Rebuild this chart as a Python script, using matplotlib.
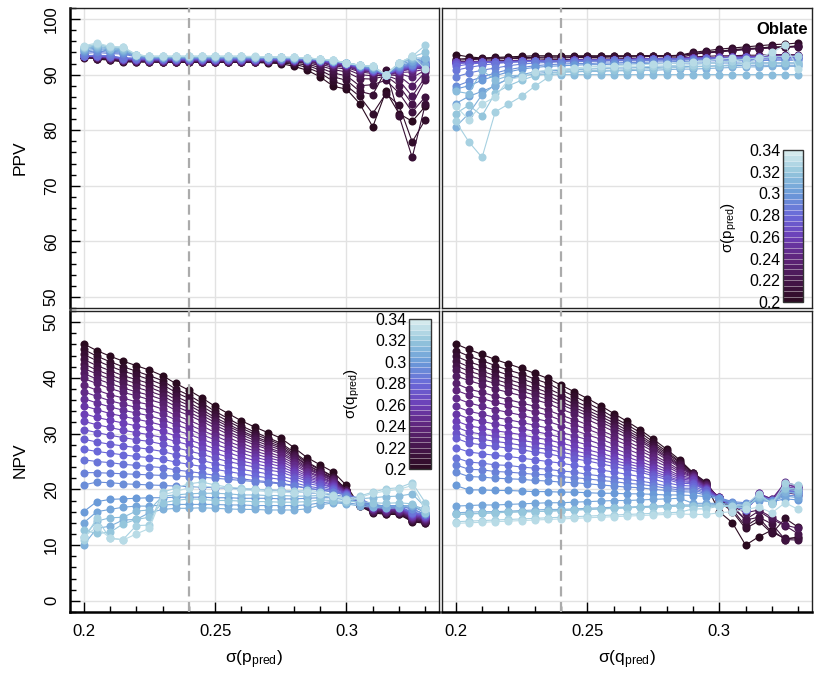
import matplotlib
matplotlib.use('Agg')
import matplotlib.pyplot as plt
from matplotlib.colors import LinearSegmentedColormap, Normalize
from matplotlib.colorbar import ColorbarBase
from matplotlib.ticker import MultipleLocator

plt.rcParams['font.family'] = ['Liberation Sans', 'DejaVu Sans']

# grid of sigma values, used both for sigma(p_pred) and sigma(q_pred)
sig = [0.200, 0.205, 0.210, 0.215, 0.220, 0.225, 0.230, 0.235, 0.240,
       0.245, 0.250, 0.255, 0.260, 0.265, 0.270, 0.275, 0.280, 0.285,
       0.290, 0.295, 0.300, 0.305, 0.310, 0.315, 0.320, 0.325, 0.330]

# PPV[i][j] : row i = sigma(q_pred), column j = sigma(p_pred)
ppv = [
    [93.6, 92.8, 92.6, 92.3, 92.3, 92.3, 92.2, 92.2, 92.2, 92.2, 92.2, 92.2, 92.2, 92.2, 92.1, 92.0, 91.5, 90.8, 89.6, 87.9, 87.4, 84.8, 80.6, 87.0, 83.0, 81.6, 84.3],
    [93.2, 92.9, 92.7, 92.4, 92.3, 92.3, 92.3, 92.2, 92.2, 92.2, 92.2, 92.2, 92.2, 92.2, 92.2, 92.1, 91.9, 91.3, 90.3, 88.8, 88.0, 86.1, 83.0, 86.6, 84.5, 77.9, 81.9],
    [93.0, 92.9, 92.8, 92.4, 92.4, 92.3, 92.3, 92.3, 92.3, 92.3, 92.3, 92.3, 92.3, 92.3, 92.2, 92.2, 92.1, 91.7, 90.8, 89.6, 89.0, 87.0, 86.4, 90.8, 82.6, 75.1, 84.7],
    [93.1, 93.0, 92.8, 92.5, 92.4, 92.4, 92.3, 92.3, 92.3, 92.3, 92.3, 92.3, 92.3, 92.3, 92.3, 92.3, 92.3, 92.0, 91.2, 90.3, 89.8, 88.0, 88.2, 89.0, 86.7, 83.3, 86.0],
    [93.2, 93.0, 92.9, 92.5, 92.5, 92.4, 92.4, 92.4, 92.4, 92.4, 92.4, 92.4, 92.4, 92.4, 92.4, 92.3, 92.3, 92.2, 91.6, 90.9, 90.5, 89.3, 89.2, 89.8, 88.0, 84.7, 89.1],
    [93.3, 93.1, 92.9, 92.6, 92.5, 92.4, 92.4, 92.4, 92.4, 92.4, 92.4, 92.4, 92.4, 92.4, 92.4, 92.4, 92.4, 92.3, 91.9, 91.3, 91.0, 90.0, 89.8, 89.9, 89.0, 86.1, 89.6],
    [93.4, 93.1, 93.0, 92.6, 92.5, 92.5, 92.5, 92.5, 92.5, 92.5, 92.5, 92.5, 92.5, 92.4, 92.4, 92.4, 92.4, 92.4, 92.1, 91.6, 91.3, 90.5, 90.2, 90.0, 89.8, 87.9, 90.5],
    [93.4, 93.2, 93.0, 92.7, 92.6, 92.5, 92.5, 92.5, 92.5, 92.5, 92.5, 92.5, 92.5, 92.5, 92.5, 92.5, 92.5, 92.4, 92.2, 91.8, 91.5, 90.7, 90.4, 90.0, 90.2, 89.5, 90.8],
    [93.4, 93.2, 93.0, 92.7, 92.6, 92.5, 92.5, 92.5, 92.5, 92.5, 92.5, 92.5, 92.5, 92.5, 92.5, 92.5, 92.5, 92.5, 92.3, 91.9, 91.6, 90.8, 90.5, 90.0, 90.4, 90.5, 91.0],
    [93.4, 93.2, 93.1, 92.7, 92.7, 92.6, 92.6, 92.6, 92.6, 92.6, 92.6, 92.6, 92.6, 92.6, 92.6, 92.5, 92.5, 92.5, 92.3, 92.0, 91.7, 90.9, 90.5, 90.0, 90.6, 91.0, 91.2],
    [93.4, 93.3, 93.1, 92.8, 92.7, 92.6, 92.6, 92.6, 92.6, 92.6, 92.6, 92.6, 92.6, 92.6, 92.6, 92.6, 92.6, 92.5, 92.4, 92.0, 91.8, 91.0, 90.6, 90.0, 90.7, 91.1, 91.4],
    [93.4, 93.3, 93.1, 92.8, 92.7, 92.7, 92.7, 92.7, 92.7, 92.7, 92.7, 92.7, 92.7, 92.6, 92.6, 92.6, 92.6, 92.6, 92.4, 92.1, 91.8, 91.1, 90.6, 90.0, 90.8, 91.2, 91.5],
    [93.4, 93.3, 93.2, 92.8, 92.8, 92.7, 92.7, 92.7, 92.7, 92.7, 92.7, 92.7, 92.7, 92.7, 92.7, 92.7, 92.6, 92.6, 92.5, 92.1, 91.9, 91.2, 90.7, 90.0, 90.8, 91.3, 91.6],
    [93.4, 93.3, 93.2, 92.9, 92.8, 92.7, 92.7, 92.7, 92.7, 92.7, 92.7, 92.7, 92.7, 92.7, 92.7, 92.7, 92.7, 92.6, 92.5, 92.2, 91.9, 91.2, 90.7, 90.0, 90.9, 91.4, 91.7],
    [93.4, 93.4, 93.2, 92.9, 92.8, 92.8, 92.8, 92.8, 92.8, 92.8, 92.8, 92.8, 92.8, 92.8, 92.8, 92.8, 92.7, 92.7, 92.5, 92.2, 92.0, 91.3, 90.8, 90.0, 91.0, 91.4, 91.8],
    [93.4, 93.4, 93.3, 92.9, 92.9, 92.8, 92.8, 92.8, 92.8, 92.8, 92.8, 92.8, 92.8, 92.8, 92.8, 92.8, 92.8, 92.7, 92.6, 92.3, 92.0, 91.3, 90.8, 90.0, 91.1, 91.5, 91.9],
    [93.4, 93.4, 93.3, 93.0, 92.9, 92.9, 92.9, 92.9, 92.9, 92.9, 92.9, 92.9, 92.9, 92.9, 92.9, 92.8, 92.8, 92.7, 92.6, 92.3, 92.0, 91.4, 90.9, 90.0, 91.2, 91.6, 92.0],
    [93.4, 93.5, 93.4, 93.0, 93.0, 92.9, 92.9, 92.9, 92.9, 92.9, 92.9, 92.9, 92.9, 92.9, 92.9, 92.9, 92.8, 92.8, 92.6, 92.4, 92.1, 91.4, 91.0, 90.0, 91.3, 91.7, 92.1],
    [93.8, 94.0, 93.8, 93.7, 93.2, 93.0, 93.0, 93.0, 93.0, 93.0, 93.0, 93.0, 93.0, 93.0, 92.9, 92.9, 92.9, 92.8, 92.7, 92.4, 92.1, 91.5, 91.0, 90.0, 91.4, 91.8, 92.3],
    [94.0, 94.3, 94.0, 93.9, 93.3, 93.0, 93.0, 93.0, 93.0, 93.0, 93.0, 93.0, 93.0, 93.0, 93.0, 93.0, 92.9, 92.8, 92.7, 92.5, 92.1, 91.5, 91.1, 90.0, 91.5, 92.0, 92.5],
    [94.2, 94.6, 94.2, 94.1, 93.4, 93.1, 93.1, 93.1, 93.1, 93.1, 93.1, 93.1, 93.1, 93.0, 93.0, 93.0, 93.0, 92.9, 92.7, 92.5, 92.1, 91.6, 91.2, 90.0, 91.6, 92.2, 92.8],
    [94.5, 94.8, 94.4, 94.3, 93.4, 93.1, 93.1, 93.1, 93.1, 93.1, 93.1, 93.1, 93.1, 93.1, 93.1, 93.0, 93.0, 92.9, 92.7, 92.5, 92.1, 91.6, 91.3, 90.0, 91.8, 92.5, 93.0],
    [94.7, 95.0, 94.6, 94.5, 93.5, 93.2, 93.2, 93.2, 93.2, 93.2, 93.2, 93.2, 93.2, 93.1, 93.1, 93.1, 93.0, 92.9, 92.7, 92.5, 92.1, 91.7, 91.4, 90.0, 92.0, 92.8, 91.8],
    [94.8, 95.2, 94.7, 94.7, 93.5, 93.2, 93.2, 93.2, 93.2, 93.2, 93.2, 93.2, 93.2, 93.2, 93.1, 93.1, 93.0, 93.0, 92.8, 92.5, 92.1, 91.7, 91.4, 90.0, 92.1, 93.0, 93.0],
    [95.0, 95.4, 94.9, 94.8, 93.6, 93.3, 93.3, 93.3, 93.3, 93.3, 93.3, 93.3, 93.3, 93.2, 93.2, 93.1, 93.1, 93.0, 92.8, 92.6, 92.1, 91.7, 91.5, 90.0, 92.1, 93.2, 94.0],
    [95.0, 95.5, 95.0, 94.9, 93.6, 93.3, 93.3, 93.3, 93.3, 93.3, 93.3, 93.3, 93.3, 93.2, 93.2, 93.1, 93.1, 93.0, 92.8, 92.6, 92.1, 91.7, 91.5, 90.0, 92.1, 93.3, 95.3],
    [95.2, 95.7, 95.1, 95.0, 93.6, 93.3, 93.3, 93.3, 93.3, 93.3, 93.3, 93.3, 93.3, 93.3, 93.2, 93.2, 93.1, 93.0, 92.8, 92.6, 92.1, 91.7, 91.5, 90.0, 92.1, 93.3, 91.0],
]

# NPV[i][j] : row i = sigma(q_pred), column j = sigma(p_pred)
npv = [
    [46.1, 44.9, 43.9, 43.0, 42.2, 41.4, 40.4, 39.0, 37.8, 36.4, 34.9, 33.6, 32.3, 31.2, 30.2, 29.2, 27.5, 25.7, 24.4, 23.1, 20.7, 17.0, 15.8, 15.5, 15.5, 14.2, 13.9],
    [45.1, 43.9, 42.9, 42.0, 41.2, 40.4, 39.5, 38.0, 36.9, 35.5, 34.0, 32.7, 31.4, 30.3, 29.3, 28.3, 26.7, 24.9, 23.6, 22.3, 19.9, 17.1, 15.9, 15.6, 15.6, 14.3, 14.0],
    [44.2, 43.1, 42.1, 41.2, 40.5, 39.7, 38.8, 37.4, 36.3, 34.9, 33.5, 32.2, 31.0, 29.9, 29.0, 28.0, 26.4, 24.7, 23.5, 22.2, 19.9, 17.2, 16.0, 15.7, 15.7, 14.4, 14.1],
    [43.3, 42.2, 41.3, 40.4, 39.7, 39.0, 38.0, 36.7, 35.6, 34.3, 32.9, 31.7, 30.5, 29.5, 28.6, 27.7, 26.1, 24.4, 23.2, 22.0, 19.8, 17.2, 16.0, 15.8, 15.8, 14.5, 14.2],
    [42.5, 41.4, 40.5, 39.7, 39.0, 38.3, 37.4, 36.1, 35.1, 33.8, 32.5, 31.3, 30.2, 29.2, 28.3, 27.4, 25.9, 24.3, 23.1, 21.9, 19.8, 17.3, 16.1, 15.9, 15.9, 14.6, 14.3],
    [41.7, 40.7, 39.8, 39.0, 38.3, 37.6, 36.8, 35.5, 34.5, 33.3, 32.0, 30.9, 29.8, 28.8, 27.9, 27.1, 25.6, 24.0, 22.9, 21.8, 19.7, 17.4, 16.2, 16.0, 16.0, 14.7, 14.4],
    [40.8, 39.8, 39.0, 38.2, 37.5, 36.9, 36.1, 34.9, 33.9, 32.7, 31.5, 30.4, 29.3, 28.4, 27.5, 26.7, 25.3, 23.8, 22.7, 21.6, 19.6, 17.5, 16.3, 16.0, 16.0, 14.8, 14.5],
    [39.9, 39.0, 38.1, 37.4, 36.8, 36.1, 35.4, 34.2, 33.3, 32.2, 31.0, 29.9, 28.9, 28.0, 27.2, 26.4, 25.0, 23.6, 22.6, 21.5, 19.6, 17.6, 16.4, 16.1, 16.1, 14.9, 14.6],
    [38.7, 37.8, 37.0, 36.4, 35.7, 35.2, 34.4, 33.3, 32.4, 31.4, 30.2, 29.3, 28.3, 27.4, 26.7, 25.9, 24.7, 23.3, 22.3, 21.3, 19.5, 17.6, 16.4, 16.2, 16.2, 15.0, 14.7],
    [37.5, 36.7, 35.9, 35.3, 34.7, 34.2, 33.5, 32.5, 31.6, 30.6, 29.6, 28.6, 27.7, 26.9, 26.2, 25.5, 24.3, 23.1, 22.1, 21.2, 19.5, 17.7, 16.5, 16.3, 16.3, 15.1, 14.8],
    [36.3, 35.5, 34.8, 34.2, 33.7, 33.2, 32.5, 31.6, 30.8, 29.8, 28.9, 28.0, 27.1, 26.4, 25.7, 25.1, 23.9, 22.7, 21.9, 21.0, 19.4, 17.8, 16.6, 16.4, 16.4, 15.2, 14.9],
    [35.0, 34.3, 33.6, 33.1, 32.6, 32.1, 31.5, 30.6, 29.9, 29.0, 28.1, 27.3, 26.5, 25.8, 25.2, 24.6, 23.5, 22.4, 21.6, 20.8, 19.3, 17.9, 16.7, 16.5, 16.5, 15.3, 15.0],
    [33.6, 32.9, 32.4, 31.9, 31.4, 31.0, 30.4, 29.6, 28.9, 28.1, 27.3, 26.6, 25.8, 25.2, 24.7, 24.1, 23.1, 22.1, 21.4, 20.6, 19.3, 18.0, 16.8, 16.6, 16.6, 15.4, 15.1],
    [32.2, 31.6, 31.1, 30.6, 30.2, 29.8, 29.3, 28.6, 28.0, 27.2, 26.5, 25.8, 25.1, 24.6, 24.1, 23.6, 22.7, 21.8, 21.1, 20.4, 19.2, 18.0, 16.8, 16.7, 16.7, 15.5, 15.2],
    [30.7, 30.2, 29.7, 29.3, 28.9, 28.6, 28.1, 27.5, 26.9, 26.3, 25.6, 25.0, 24.5, 24.0, 23.5, 23.1, 22.3, 21.5, 20.9, 20.3, 19.2, 18.1, 16.9, 16.8, 16.8, 15.6, 15.3],
    [29.0, 28.5, 28.1, 27.8, 27.5, 27.2, 26.8, 26.2, 25.8, 25.2, 24.6, 24.1, 23.6, 23.2, 22.8, 22.4, 21.8, 21.1, 20.6, 20.0, 19.1, 18.2, 17.0, 16.8, 16.8, 15.7, 15.4],
    [27.2, 26.8, 26.5, 26.2, 25.9, 25.7, 25.4, 24.9, 24.5, 24.1, 23.6, 23.2, 22.8, 22.4, 22.1, 21.8, 21.2, 20.6, 20.2, 19.8, 19.0, 18.3, 17.1, 16.9, 16.9, 15.8, 15.5],
    [25.3, 25.0, 24.8, 24.5, 24.3, 24.1, 23.9, 23.5, 23.2, 22.9, 22.5, 22.2, 21.9, 21.6, 21.4, 21.1, 20.7, 20.2, 19.9, 19.6, 19.0, 18.4, 17.2, 17.0, 17.0, 15.9, 15.6],
    [23.0, 23.0, 22.9, 22.8, 22.7, 22.6, 22.5, 22.4, 22.3, 22.2, 22.0, 21.8, 21.6, 21.4, 21.2, 21.0, 20.6, 20.2, 19.9, 19.5, 18.9, 17.5, 17.2, 17.0, 17.0, 16.5, 15.5],
    [20.8, 21.3, 21.2, 21.0, 20.9, 20.8, 20.7, 20.6, 20.5, 20.4, 20.3, 20.2, 20.1, 20.0, 19.9, 19.8, 19.6, 19.4, 19.2, 19.0, 18.7, 17.5, 17.2, 17.0, 17.0, 16.5, 15.5],
    [16.0, 17.8, 18.2, 18.3, 18.4, 18.5, 18.5, 18.6, 18.6, 18.6, 18.5, 18.5, 18.4, 18.4, 18.4, 18.3, 18.3, 18.4, 18.5, 18.5, 18.3, 17.5, 17.3, 17.0, 17.1, 17.0, 15.8],
    [14.0, 16.0, 16.4, 16.8, 17.0, 17.0, 17.2, 17.3, 17.3, 17.3, 17.3, 17.2, 17.2, 17.1, 17.1, 17.1, 17.1, 17.2, 17.6, 17.8, 17.6, 17.3, 17.0, 16.9, 16.9, 17.1, 16.0],
    [10.0, 13.0, 13.4, 14.5, 14.6, 15.8, 16.4, 16.6, 16.6, 16.7, 16.6, 16.5, 16.4, 16.4, 16.3, 16.3, 16.3, 16.5, 17.2, 17.6, 17.4, 17.0, 16.8, 16.6, 16.7, 17.2, 16.4],
    [11.5, 14.3, 14.9, 15.0, 16.1, 16.3, 18.8, 19.0, 19.2, 19.3, 19.3, 19.2, 19.0, 19.0, 18.9, 18.9, 18.8, 18.8, 18.9, 18.5, 18.0, 18.3, 18.5, 18.7, 18.8, 19.2, 16.8],
    [12.7, 12.1, 12.3, 13.8, 14.6, 15.0, 17.6, 18.0, 18.3, 18.2, 18.0, 18.0, 17.9, 17.8, 17.8, 17.7, 17.7, 17.8, 18.1, 18.0, 17.8, 17.8, 17.6, 17.5, 17.6, 17.4, 15.8],
    [11.0, 14.8, 11.2, 11.0, 13.5, 13.6, 19.5, 20.2, 21.0, 21.3, 20.8, 20.4, 20.2, 20.0, 19.9, 19.8, 19.7, 19.8, 19.6, 19.0, 18.3, 18.8, 19.5, 20.1, 20.3, 21.2, 17.6],
    [11.5, 13.2, 11.3, 10.9, 12.0, 13.0, 19.0, 19.6, 20.3, 20.6, 20.4, 20.2, 19.9, 19.8, 19.6, 19.5, 19.4, 19.5, 19.2, 18.8, 18.1, 18.5, 19.3, 19.7, 20.0, 20.7, 16.4],
]

cb_ticks = [0.2, 0.22, 0.24, 0.26, 0.28, 0.3, 0.32, 0.34]
cb_labels = ['0.2', '0.22', '0.24', '0.26', '0.28', '0.3', '0.32', '0.34']

cmap = LinearSegmentedColormap.from_list(
    'dense_r', ['#2a0a1f', '#45154a', '#5e2479', '#6c3eb6',
                '#6a68d8', '#6a9ad8', '#94c6dc', '#dcefef'])
norm = Normalize(0.2, 0.34)

W, H = 820, 675
fig = plt.figure(figsize=(W / 100, H / 100), dpi=100)


def box(x0, y0, x1, y1):
    return [x0 / W, 1 - y1 / H, (x1 - x0) / W, (y1 - y0) / H]


ax_tl = fig.add_axes(box(70, 8, 439, 308))
ax_tr = fig.add_axes(box(442, 8, 812, 308))
ax_bl = fig.add_axes(box(70, 311, 439, 612))
ax_br = fig.add_axes(box(442, 311, 812, 612))


def draw(ax, mat, by_row):
    n = len(sig)
    for k in range(n):
        if by_row:
            y = mat[k]
        else:
            y = [mat[i][k] for i in range(n)]
        c = cmap(norm(sig[k]))
        ax.plot(sig, y, '-', color=c, lw=0.8, zorder=3)
        ax.plot(sig, y, 'o', color=c, ms=5.8, mew=0, zorder=3)


draw(ax_tl, ppv, True)
draw(ax_tr, ppv, False)
draw(ax_bl, npv, True)
draw(ax_br, npv, False)

for ax in (ax_tl, ax_tr, ax_bl, ax_br):
    ax.set_xlim(0.1948, 0.3352)
    ax.set_xticks([0.2, 0.25, 0.3])
    ax.xaxis.set_minor_locator(MultipleLocator(0.01))
    ax.yaxis.set_major_locator(MultipleLocator(10))
    ax.yaxis.set_minor_locator(MultipleLocator(2))
    ax.grid(True, which='major', color='#e2e2e2', lw=1.0, zorder=0)
    ax.set_axisbelow(True)
    ax.axvline(0.24, color='#ababab', lw=1.6, ls=(0, (4.5, 2.5)), zorder=4)
    ax.tick_params(which='both', direction='in', width=1.0, labelsize=12,
                   top=False, right=False)
    ax.tick_params(which='major', length=7)
    ax.tick_params(which='minor', length=4)
    for s in ax.spines.values():
        s.set_color('#222222')
        s.set_linewidth(1.0)

for ax in (ax_tl, ax_tr):
    ax.set_ylim(48, 102)
    ax.tick_params(which='both', axis='x', bottom=False, labelbottom=False)
for ax in (ax_bl, ax_br):
    ax.set_ylim(-2, 52)
    ax.set_xticklabels(['0.2', '0.25', '0.3'])
    ax.tick_params(which='both', axis='x', pad=9)
    ax.spines['bottom'].set_linewidth(1.8)
    ax.spines['bottom'].set_color('black')
for ax in (ax_tr, ax_br):
    ax.tick_params(which='both', axis='y', left=False, labelleft=False)
for ax in (ax_tl, ax_bl):
    ax.tick_params(which='both', axis='y', labelrotation=90, pad=8)
    ax.spines['left'].set_linewidth(1.8)
    ax.spines['left'].set_color('black')
    for lab in ax.get_yticklabels():
        lab.set_va('center')

fig.text(20 / W, 1 - 158 / H, 'PPV', rotation=90, ha='center', va='center', fontsize=12.5)
fig.text(20 / W, 1 - 460 / H, 'NPV', rotation=90, ha='center', va='center', fontsize=12.5)
fig.text(254 / W, 1 - 660 / H, 'σ($\\mathregular{p_{pred}}$)', ha='center', va='center', fontsize=12.5)
fig.text(627 / W, 1 - 660 / H, 'σ($\\mathregular{q_{pred}}$)', ha='center', va='center', fontsize=12.5)
fig.text(808 / W, 1 - 30 / H, 'Oblate', ha='right', va='center', fontsize=12, fontweight='bold')

bounds = [0.2 + 0.005 * k for k in range(29)]


def colorbar(rect, title, tx, ty):
    cax = fig.add_axes(rect)
    cb = ColorbarBase(cax, cmap=cmap, norm=norm, boundaries=bounds,
                      drawedges=True, orientation='vertical')
    cb.dividers.set_color('white')
    cb.dividers.set_linewidth(0.5)
    cb.dividers.set_alpha(0.6)
    cb.outline.set_edgecolor('#333333')
    cb.outline.set_linewidth(1.0)
    cax.yaxis.set_ticks_position('left')
    cb.set_ticks(cb_ticks)
    cb.set_ticklabels(cb_labels)
    cax.tick_params(length=0, pad=2, labelsize=11.5)
    fig.text(tx / W, 1 - ty / H, title, rotation=90, ha='center', va='center', fontsize=11)


colorbar(box(783, 150, 803, 302), 'σ($\\mathregular{p_{pred}}$)', 729, 227)
colorbar(box(409, 319, 431, 469), 'σ($\\mathregular{q_{pred}}$)', 352, 393)

fig.savefig('out.png', dpi=100)
